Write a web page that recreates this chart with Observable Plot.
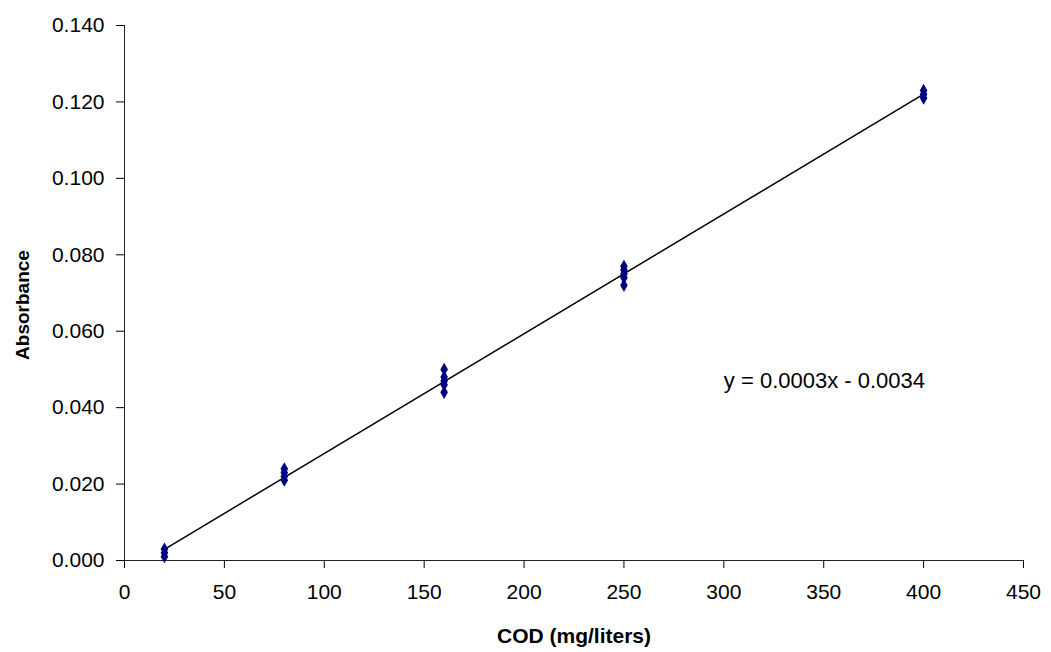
<!DOCTYPE html>
<html>
<head>
<meta charset="utf-8">
<script src="https://cdn.jsdelivr.net/npm/d3@7"></script>
<script src="https://cdn.jsdelivr.net/npm/@observablehq/plot@0.6"></script>
<style>
  html, body { margin: 0; padding: 0; background: #fff; }
  #chart svg { font-family: "Liberation Sans", Arial, sans-serif; }
  g[aria-label="x-axis tick label"] text, g[aria-label="y-axis tick label"] text { font-size: 21px; }
  g[aria-label="x-axis label"] text { font-weight: bold; font-size: 21px; }
</style>
</head>
<body>
<div id="chart"></div>
<script>
// COD concentration (mg/liters) for each replicate
const cod = [20, 20, 20,
             80, 80, 80, 80,
             160, 160, 160, 160, 160,
             250, 250, 250, 250, 250,
             400, 400, 400];
// Absorbance readings
const absorbance = [0.003, 0.002, 0.001,
                    0.024, 0.023, 0.022, 0.021,
                    0.050, 0.048, 0.047, 0.046, 0.044,
                    0.077, 0.076, 0.075, 0.074, 0.072,
                    0.123, 0.122, 0.121];
const xTicks = [0, 50, 100, 150, 200, 250, 300, 350, 400, 450];
const yTicks = [0, 0.02, 0.04, 0.06, 0.08, 0.10, 0.12, 0.14];
const xTitle = "COD (mg/liters)";
const yTitle = "Absorbance";
const equationText = ["y = 0.0003x - 0.0034"];
const equationAt = [{x: 300, y: 0.047}];

const data = cod.map((c, i) => ({cod: c, abs: absorbance[i]}));

const chart = Plot.plot({
  width: 1051,
  height: 652,
  marginLeft: 124,
  marginRight: 28,
  marginTop: 25,
  marginBottom: 92,
  style: {fontFamily: "Liberation Sans, Arial, sans-serif", color: "#000"},
  x: {domain: [0, 450], ticks: xTicks, tickFormat: d3.format("d"), label: xTitle,
      labelAnchor: "center", labelOffset: 82, tickSize: 8, tickPadding: 16, labelArrow: "none"},
  y: {domain: [0, 0.14], ticks: yTicks, tickFormat: d3.format(".3f"), label: null,
      tickSize: 8, tickPadding: 12},
  marks: [
    Plot.ruleX([0], {stroke: "#222"}),
    Plot.ruleY([0], {stroke: "#222"}),
    Plot.linearRegressionY(data, {x: "cod", y: "abs", ci: 0, stroke: "#000", strokeWidth: 1.5}),
    Plot.dot(data, {x: "cod", y: "abs", symbol: "diamond", r: 4, fill: "#000080", stroke: "none"}),
    Plot.text(equationAt, {x: "x", y: "y", text: () => equationText[0], textAnchor: "start", fontSize: 22, fill: "#000"}),
    Plot.text([yTitle], {frameAnchor: "left", textAnchor: "middle", rotate: -90, text: d => d, dx: -102, dy: 12,
      fontSize: 19, fontWeight: "bold", fill: "#000"})
  ]
});
document.getElementById("chart").appendChild(chart);
</script>
</body>
</html>
